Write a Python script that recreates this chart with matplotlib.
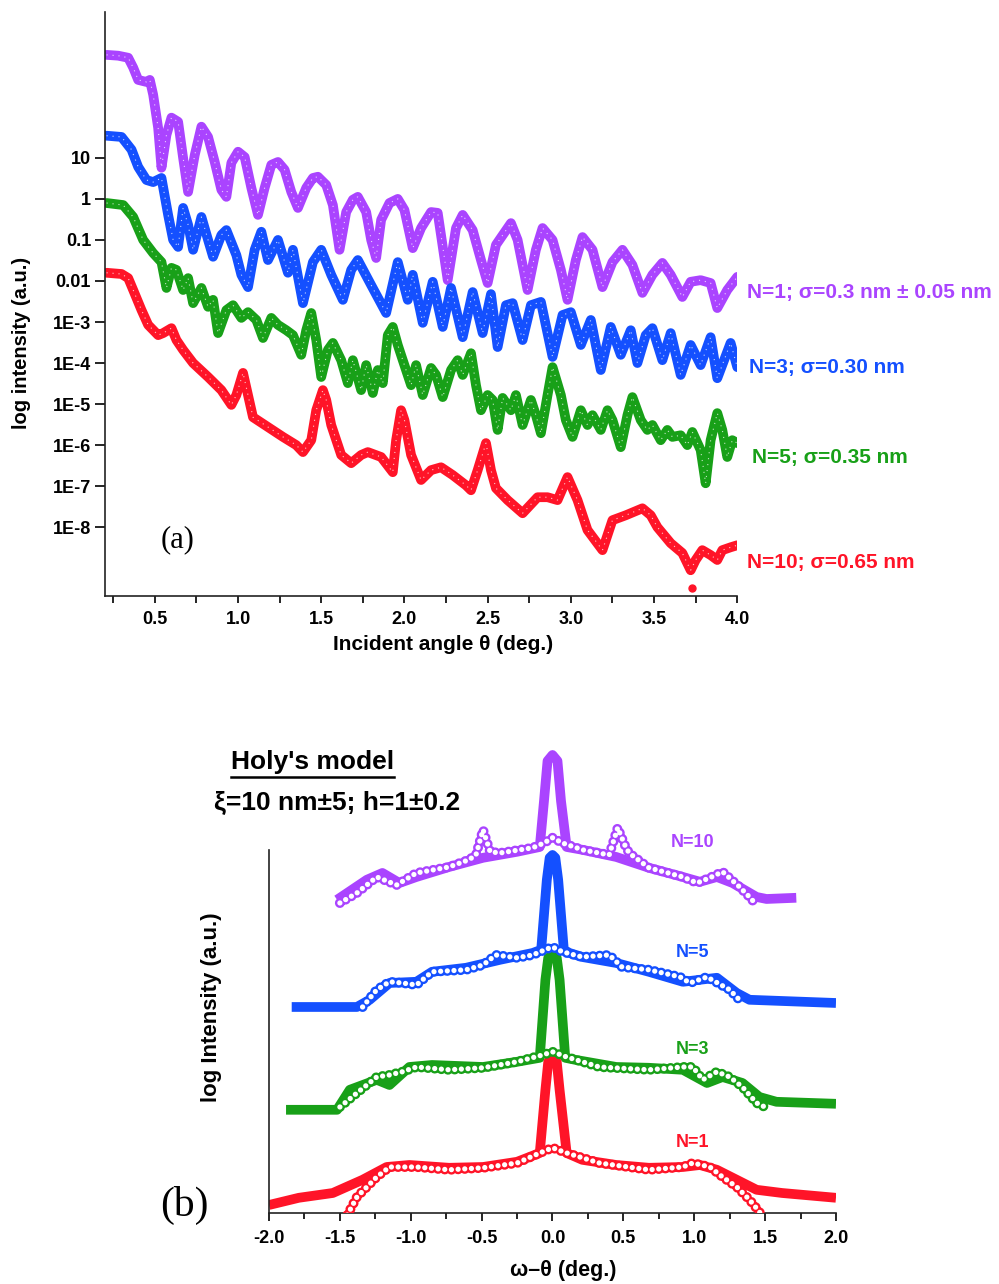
import matplotlib
matplotlib.use("Agg")
import matplotlib.pyplot as plt
import numpy as np
from matplotlib.lines import Line2D
from matplotlib.ticker import FixedLocator, NullLocator, MultipleLocator

plt.rcParams['font.family'] = ['Liberation Sans', 'DejaVu Sans']
plt.rcParams['axes.unicode_minus'] = False
plt.rcParams['lines.scale_dashes'] = False

PURPLE = '#AA44FF'
BLUE = '#1450FF'
GREEN = '#18A018'
RED = '#FF1428'

# ---------- panel (a): specular reflectivity, theta (deg) vs log10 intensity
n1_theta = [0.21, 0.28, 0.34, 0.37, 0.40, 0.45, 0.47, 0.49, 0.52, 0.54, 0.57, 0.60, 0.64, 0.67, 0.70,
            0.74, 0.78, 0.82, 0.86, 0.90, 0.93, 0.96, 1.00, 1.04, 1.08, 1.12, 1.16, 1.20, 1.24, 1.28,
            1.32, 1.36, 1.41, 1.45, 1.48, 1.53, 1.57, 1.61, 1.65, 1.69, 1.72, 1.77, 1.80, 1.83, 1.86,
            1.91, 1.96, 2.00, 2.05, 2.10, 2.16, 2.20, 2.26, 2.31, 2.35, 2.41, 2.46, 2.50, 2.55, 2.64,
            2.68, 2.74, 2.79, 2.83, 2.89, 2.94, 2.98, 3.03, 3.07, 3.13, 3.19, 3.25, 3.31, 3.37, 3.43,
            3.49, 3.55, 3.60, 3.67, 3.72, 3.78, 3.84, 3.88, 3.94, 4.00]
n1_logI = [3.51, 3.49, 3.44, 3.20, 2.90, 2.85, 2.90, 2.54, 1.73, 0.76, 1.56, 1.98, 1.88, 1.00, 0.17,
           1.07, 1.76, 1.51, 0.90, 0.22, 0.05, 0.88, 1.15, 1.02, 0.27, -0.39, 0.27, 0.83, 0.90, 0.71,
           0.17, -0.22, 0.27, 0.51, 0.54, 0.34, -0.15, -1.24, -0.32, -0.02, 0.05, -0.32, -1.00, -1.44, -0.51,
           -0.10, 0.00, -0.27, -1.20, -0.71, -0.32, -0.34, -1.98, -0.71, -0.39, -0.76, -1.49, -2.05, -1.12, -0.59,
           -1.00, -2.22, -1.24, -0.71, -1.00, -1.73, -2.46, -1.49, -0.93, -1.24, -2.15, -1.54, -1.24, -1.61, -2.29,
           -1.85, -1.56, -1.85, -2.39, -2.02, -1.98, -2.05, -2.66, -2.22, -1.90]

n3_theta = [0.21, 0.30, 0.36, 0.40, 0.45, 0.49, 0.54, 0.58, 0.61, 0.64, 0.67, 0.70, 0.73, 0.78, 0.82,
            0.85, 0.90, 0.93, 0.99, 1.02, 1.06, 1.10, 1.14, 1.18, 1.24, 1.30, 1.33, 1.39, 1.45, 1.50,
            1.56, 1.63, 1.68, 1.72, 1.80, 1.89, 1.96, 2.02, 2.05, 2.11, 2.17, 2.23, 2.28, 2.35, 2.41,
            2.47, 2.52, 2.56, 2.61, 2.65, 2.71, 2.76, 2.82, 2.89, 2.95, 3.00, 3.06, 3.12, 3.18, 3.24,
            3.30, 3.36, 3.40, 3.45, 3.49, 3.55, 3.60, 3.66, 3.72, 3.78, 3.84, 3.88, 3.96, 4.00]
n3_logI = [1.54, 1.51, 1.20, 0.78, 0.46, 0.41, 0.51, -0.39, -1.00, -1.17, -0.22, -0.63, -1.24, -0.44, -1.00,
           -1.41, -0.88, -0.76, -1.37, -1.85, -2.15, -1.24, -0.80, -1.49, -1.00, -1.80, -1.24, -2.54, -1.54, -1.24,
           -1.85, -2.46, -1.73, -1.49, -2.10, -2.78, -1.54, -2.46, -1.85, -3.02, -2.02, -3.12, -2.17, -3.37, -2.27,
           -3.27, -2.32, -3.61, -2.59, -2.54, -3.44, -2.59, -2.51, -3.85, -2.83, -2.76, -3.56, -2.95, -4.17, -3.12,
           -3.80, -3.20, -4.00, -3.32, -3.15, -3.93, -3.27, -4.29, -3.56, -4.05, -3.37, -4.37, -3.51, -4.10]

n5_theta = [0.21, 0.31, 0.37, 0.43, 0.49, 0.54, 0.57, 0.60, 0.63, 0.67, 0.70, 0.73, 0.78, 0.82, 0.85,
            0.88, 0.93, 0.97, 1.02, 1.06, 1.11, 1.15, 1.20, 1.24, 1.29, 1.33, 1.38, 1.41, 1.44, 1.47,
            1.50, 1.54, 1.57, 1.62, 1.66, 1.69, 1.74, 1.77, 1.81, 1.84, 1.87, 1.90, 1.93, 1.96, 1.99,
            2.04, 2.07, 2.11, 2.16, 2.19, 2.23, 2.28, 2.32, 2.35, 2.40, 2.43, 2.46, 2.50, 2.53, 2.56,
            2.59, 2.64, 2.67, 2.71, 2.76, 2.79, 2.82, 2.86, 2.89, 2.94, 2.97, 3.01, 3.06, 3.10, 3.13,
            3.18, 3.22, 3.25, 3.30, 3.34, 3.37, 3.42, 3.46, 3.49, 3.54, 3.58, 3.61, 3.66, 3.70, 3.73,
            3.78, 3.81, 3.84, 3.88, 3.91, 3.94, 3.97, 4.00]
n5_logI = [-0.10, -0.15, -0.44, -1.00, -1.32, -1.54, -2.17, -1.68, -1.73, -2.22, -1.93, -2.54, -2.17, -2.63, -2.46,
           -3.27, -2.71, -2.59, -2.90, -2.76, -2.95, -3.39, -2.90, -3.07, -3.20, -3.32, -3.80, -3.20, -2.78, -3.44,
           -4.34, -3.68, -3.51, -3.93, -4.49, -3.93, -4.66, -4.05, -4.73, -4.17, -4.49, -3.32, -3.12, -3.56, -3.93,
           -4.54, -4.05, -4.78, -4.12, -4.29, -4.83, -4.17, -3.93, -4.29, -3.76, -4.54, -5.15, -4.78, -4.90, -5.63,
           -4.85, -5.15, -4.78, -5.51, -4.90, -5.27, -5.71, -4.78, -4.10, -4.78, -5.39, -5.80, -5.15, -5.51, -5.27,
           -5.63, -5.15, -5.39, -6.05, -5.27, -4.83, -5.39, -5.63, -5.51, -5.88, -5.63, -5.80, -5.76, -6.00, -5.68,
           -6.12, -6.93, -5.88, -5.22, -5.63, -6.29, -5.88, -5.95]

n10_theta = [0.21, 0.30, 0.34, 0.37, 0.42, 0.46, 0.52, 0.55, 0.60, 0.63, 0.67, 0.73, 0.82, 0.90, 0.96,
             0.99, 1.03, 1.06, 1.09, 1.18, 1.27, 1.35, 1.39, 1.44, 1.47, 1.51, 1.53, 1.56, 1.62, 1.68,
             1.74, 1.78, 1.86, 1.93, 1.95, 1.98, 2.00, 2.04, 2.10, 2.16, 2.22, 2.29, 2.37, 2.40, 2.44,
             2.49, 2.52, 2.55, 2.62, 2.71, 2.80, 2.86, 2.92, 2.98, 3.04, 3.10, 3.19, 3.25, 3.33, 3.43,
             3.48, 3.52, 3.60, 3.67, 3.72, 3.75, 3.79, 3.84, 3.88, 3.91, 3.96, 4.00]
n10_logI = [-1.80, -1.83, -1.93, -2.22, -2.71, -3.07, -3.32, -3.27, -3.15, -3.44, -3.68, -4.00, -4.34, -4.66, -5.02,
            -4.78, -4.24, -4.78, -5.32, -5.56, -5.80, -6.00, -6.17, -5.88, -5.15, -4.66, -4.90, -5.51, -6.24, -6.44,
            -6.24, -6.17, -6.29, -6.66, -5.88, -5.15, -5.39, -6.24, -6.85, -6.61, -6.54, -6.73, -6.98, -7.10, -6.61,
            -5.95, -6.61, -7.05, -7.34, -7.66, -7.27, -7.27, -7.34, -6.78, -7.34, -8.07, -8.56, -7.83, -7.71, -7.54,
            -7.71, -8.00, -8.39, -8.63, -9.05, -8.80, -8.56, -8.68, -8.80, -8.56, -8.49, -8.44]
n10_stray = (3.73, -9.49)

a_labels = ["N=1; σ=0.3 nm ± 0.05 nm", "N=3; σ=0.30 nm", "N=5; σ=0.35 nm", "N=10; σ=0.65 nm"]
a_label_pos = [(4.06, -2.29), (4.07, -4.12), (4.09, -6.29), (4.06, -8.85)]

# ---------- panel (b): transverse scans, omega-theta (deg) vs offset log intensity
# measured (dense band) and simulated (open circles)
b10_x = [-1.52, -1.31, -1.20, -1.08, -0.96, -0.73, -0.49, -0.25, -0.09, -0.06, -0.035, 0.0, 0.035, 0.06, 0.10,
         0.21, 0.45, 0.68, 0.92, 1.04, 1.16, 1.27, 1.44, 1.51, 1.72]
b10_y = [7.83, 8.33, 8.50, 8.25, 8.40, 8.65, 8.88, 9.03, 9.15, 10.3, 11.3, 11.45, 11.3, 10.3, 9.15,
         9.08, 8.90, 8.63, 8.40, 8.28, 8.40, 8.25, 7.90, 7.85, 7.88]
s10_x = [-1.50, -1.38, -1.24, -1.10, -0.96, -0.73, -0.59, -0.54, -0.49, -0.44, -0.37, -0.14, -0.06, 0.0, 0.07,
         0.21, 0.40, 0.46, 0.51, 0.54, 0.68, 0.92, 1.02, 1.11, 1.20, 1.32, 1.39, 1.44]
s10_y = [7.75, 8.00, 8.40, 8.20, 8.50, 8.65, 8.83, 8.95, 9.58, 9.03, 9.00, 9.13, 9.25, 9.38, 9.25,
         9.08, 8.95, 9.63, 9.20, 9.00, 8.63, 8.40, 8.25, 8.38, 8.53, 8.15, 7.90, 7.70]

b5_x = [-1.84, -1.38, -1.29, -1.15, -0.96, -0.85, -0.61, -0.37, -0.14, -0.08, -0.04, -0.02, 0.0, 0.02, 0.04,
        0.08, 0.12, 0.21, 0.45, 0.68, 0.92, 1.04, 1.16, 1.30, 1.39, 2.00]
b5_y = [5.15, 5.15, 5.33, 5.75, 5.78, 6.03, 6.13, 6.33, 6.50, 6.58, 8.33, 8.88, 8.95, 8.88, 8.33,
        6.58, 6.50, 6.40, 6.25, 6.03, 5.78, 5.83, 5.88, 5.50, 5.33, 5.25]
s5_x = [-1.34, -1.24, -1.15, -1.06, -0.96, -0.85, -0.61, -0.49, -0.40, -0.25, -0.14, -0.04, 0.0, 0.07, 0.21,
        0.40, 0.49, 0.68, 0.90, 0.97, 1.09, 1.25, 1.34]
s5_y = [5.15, 5.58, 5.78, 5.75, 5.70, 6.03, 6.08, 6.20, 6.45, 6.38, 6.45, 6.60, 6.65, 6.53, 6.40,
        6.45, 6.15, 6.08, 5.90, 5.75, 5.90, 5.58, 5.25]

b3_x = [-1.88, -1.52, -1.43, -1.24, -1.15, -1.01, -0.85, -0.49, -0.25, -0.09, -0.05, -0.03, 0.0, 0.03, 0.05,
        0.09, 0.16, 0.45, 0.68, 0.92, 1.09, 1.20, 1.34, 1.46, 1.58, 2.00]
b3_y = [2.58, 2.58, 3.08, 3.33, 3.20, 3.65, 3.70, 3.65, 3.78, 3.88, 5.83, 6.38, 6.45, 6.38, 5.83,
        3.88, 3.83, 3.65, 3.63, 3.58, 3.25, 3.40, 3.25, 2.90, 2.78, 2.73]
s3_x = [-1.50, -1.38, -1.24, -1.15, -1.06, -0.96, -0.73, -0.49, -0.25, -0.07, 0.0, 0.10, 0.33, 0.68, 0.92,
        0.99, 1.06, 1.16, 1.25, 1.34, 1.44, 1.51]
s3_y = [2.65, 3.00, 3.40, 3.45, 3.53, 3.65, 3.58, 3.63, 3.78, 3.95, 4.03, 3.90, 3.65, 3.58, 3.65,
        3.65, 3.33, 3.53, 3.40, 3.15, 2.75, 2.63]

b1_x = [-2.00, -1.79, -1.55, -1.34, -1.17, -1.01, -0.73, -0.49, -0.25, -0.09, -0.05, -0.03, 0.0, 0.03, 0.05,
        0.10, 0.21, 0.45, 0.68, 0.92, 1.04, 1.16, 1.30, 1.44, 1.62, 2.00]
b1_y = [0.20, 0.38, 0.50, 0.83, 1.15, 1.20, 1.13, 1.15, 1.28, 1.50, 3.08, 3.78, 3.88, 3.78, 3.08,
        1.50, 1.33, 1.20, 1.13, 1.15, 1.20, 1.08, 0.83, 0.58, 0.50, 0.38]
s1_x = [-1.47, -1.38, -1.24, -1.15, -0.96, -0.73, -0.49, -0.25, -0.09, 0.0, 0.10, 0.33, 0.68, 0.92, 0.99,
        1.11, 1.20, 1.30, 1.39, 1.46, 1.49]
s1_y = [-0.20, 0.40, 0.90, 1.15, 1.15, 1.08, 1.13, 1.25, 1.50, 1.63, 1.50, 1.25, 1.08, 1.15, 1.25,
        1.15, 0.90, 0.65, 0.33, 0.03, -0.20]

b_labels = ["N=10", "N=5", "N=3", "N=1"]
b_label_pos = [(0.99, 9.25), (0.99, 6.50), (0.99, 4.08), (0.99, 1.75)]

fig = plt.figure(figsize=(9.99, 12.84), dpi=100)

# ================= panel (a)
ax = fig.add_axes([0.105, 0.5358, 0.633, 0.4549])
series_a = [(n1_theta, n1_logI, PURPLE), (n3_theta, n3_logI, BLUE),
            (n5_theta, n5_logI, GREEN), (n10_theta, n10_logI, RED)]
for th, lg, c in series_a:
    ax.plot(th, 10 ** np.array(lg), color=c, lw=7, solid_joinstyle='round',
            solid_capstyle='round', zorder=2)
    ax.plot(th, 10 ** np.array(lg), color='white', lw=0.8, ls=(0, (0.8, 3.5)),
            alpha=0.75, zorder=3)
ax.plot([n10_stray[0]], [10 ** n10_stray[1]], 'o', color=RED, ms=5, zorder=2)

ax.set_yscale('log')
ax.set_xlim(0.2, 4.0)
ax.set_ylim(2.1e-10, 3.6e4)
ax.spines['top'].set_visible(False)
ax.spines['right'].set_visible(False)
for s in ('left', 'bottom'):
    ax.spines[s].set_linewidth(1.2)
    ax.spines[s].set_color('#222222')

ytick_vals = [10, 1, 0.1, 0.01, 1e-3, 1e-4, 1e-5, 1e-6, 1e-7, 1e-8]
ytick_labs = ["10", "1", "0.1", "0.01", "1E-3", "1E-4", "1E-5", "1E-6", "1E-7", "1E-8"]
ax.yaxis.set_major_locator(FixedLocator(ytick_vals))
ax.set_yticklabels(ytick_labs)
ax.yaxis.set_minor_locator(NullLocator())
xt = [0.5, 1.0, 1.5, 2.0, 2.5, 3.0, 3.5, 4.0]
ax.set_xticks(xt)
ax.set_xticklabels(["%.1f" % v for v in xt])
ax.xaxis.set_minor_locator(MultipleLocator(0.25))
ax.tick_params(axis='y', which='major', direction='out', length=7, width=1.2, labelsize=13, pad=3)
ax.tick_params(axis='x', which='both', direction='out', length=5, width=1.2, labelsize=13, pad=6)
for lab in ax.get_xticklabels() + ax.get_yticklabels():
    lab.set_fontweight('bold')

for (tx, ty), txt, (_, _, c) in zip(a_label_pos, a_labels, series_a):
    ax.text(tx, 10 ** ty, txt, color=c, fontsize=15, fontweight='bold',
            ha='left', va='center', clip_on=False)
ax.text(0.1155, 0.096, "(a)", transform=ax.transAxes, fontsize=22,
        family=['Liberation Serif', 'DejaVu Serif'], ha='center', va='center')

fig.text(0.022, 0.733, "log intensity (a.u.)", rotation=90, ha='center', va='center',
         fontsize=14.5, fontweight='bold')
fig.text(0.4434, 0.4977, "Incident angle θ (deg.)", ha='center', va='center',
         fontsize=15, fontweight='bold')

# ================= panel (b)
bx = fig.add_axes([0.2693, 0.0553, 0.5675, 0.3684])
series_b = [(b10_x, b10_y, s10_x, s10_y, PURPLE), (b5_x, b5_y, s5_x, s5_y, BLUE),
            (b3_x, b3_y, s3_x, s3_y, GREEN), (b1_x, b1_y, s1_x, s1_y, RED)]
for mx, my, sx, sy, c in series_b:
    bx.plot(mx, my, color=c, lw=7, solid_joinstyle='round', solid_capstyle='butt', zorder=2)
    bx.plot(sx, sy, color=c, lw=7.2, ls=(0, (0.01, 4.8)), dash_capstyle='round', zorder=3)
    bx.plot(sx, sy, color='white', lw=3.8, ls=(0, (0.01, 4.8)), dash_capstyle='round', zorder=4)

bx.set_xlim(-2.0, 2.0)
bx.set_ylim(0, 11.825)
bx.spines['top'].set_visible(False)
bx.spines['right'].set_visible(False)
bx.spines['left'].set_bounds(0, 9.075)
for s in ('left', 'bottom'):
    bx.spines[s].set_linewidth(1.2)
    bx.spines[s].set_color('#222222')
bx.set_yticks([])
xtb = [-2.0, -1.5, -1.0, -0.5, 0.0, 0.5, 1.0, 1.5, 2.0]
bx.set_xticks(xtb)
bx.set_xticklabels(["%.1f" % v for v in xtb])
bx.xaxis.set_minor_locator(MultipleLocator(0.25))
bx.tick_params(axis='x', which='major', direction='out', length=6, width=1.2, labelsize=13, pad=6)
bx.tick_params(axis='x', which='minor', direction='out', length=4, width=1.2)
for lab in bx.get_xticklabels():
    lab.set_fontweight('bold')

for (tx, ty), txt, (_, _, _, _, c) in zip(b_label_pos, b_labels, series_b):
    bx.text(tx, ty, txt, color=c, fontsize=13, fontweight='bold', ha='center', va='center')

fig.text(0.212, 0.2157, "log Intensity (a.u.)", rotation=90, ha='center', va='center',
         fontsize=16, fontweight='bold')
fig.text(0.5636, 0.0109, "ω–θ (deg.)", ha='center', va='center', fontsize=15.5, fontweight='bold')
fig.text(0.185, 0.0615, "(b)", ha='center', va='center', fontsize=30,
         family=['Liberation Serif', 'DejaVu Serif'])

holy = fig.text(0.313, 0.4065, "Holy's model", ha='center', va='center', fontsize=19,
                fontweight='bold')
fig.text(0.337, 0.3746, "ξ=10 nm±5; h=1±0.2", ha='center', va='center', fontsize=19,
         fontweight='bold')

fig.canvas.draw()
bb = holy.get_window_extent().transformed(fig.transFigure.inverted())
fig.add_artist(Line2D([bb.x0, bb.x1], [bb.y0 - 0.002, bb.y0 - 0.002], transform=fig.transFigure,
                      color='black', lw=1.8))

fig.savefig("out.png", dpi=100)
